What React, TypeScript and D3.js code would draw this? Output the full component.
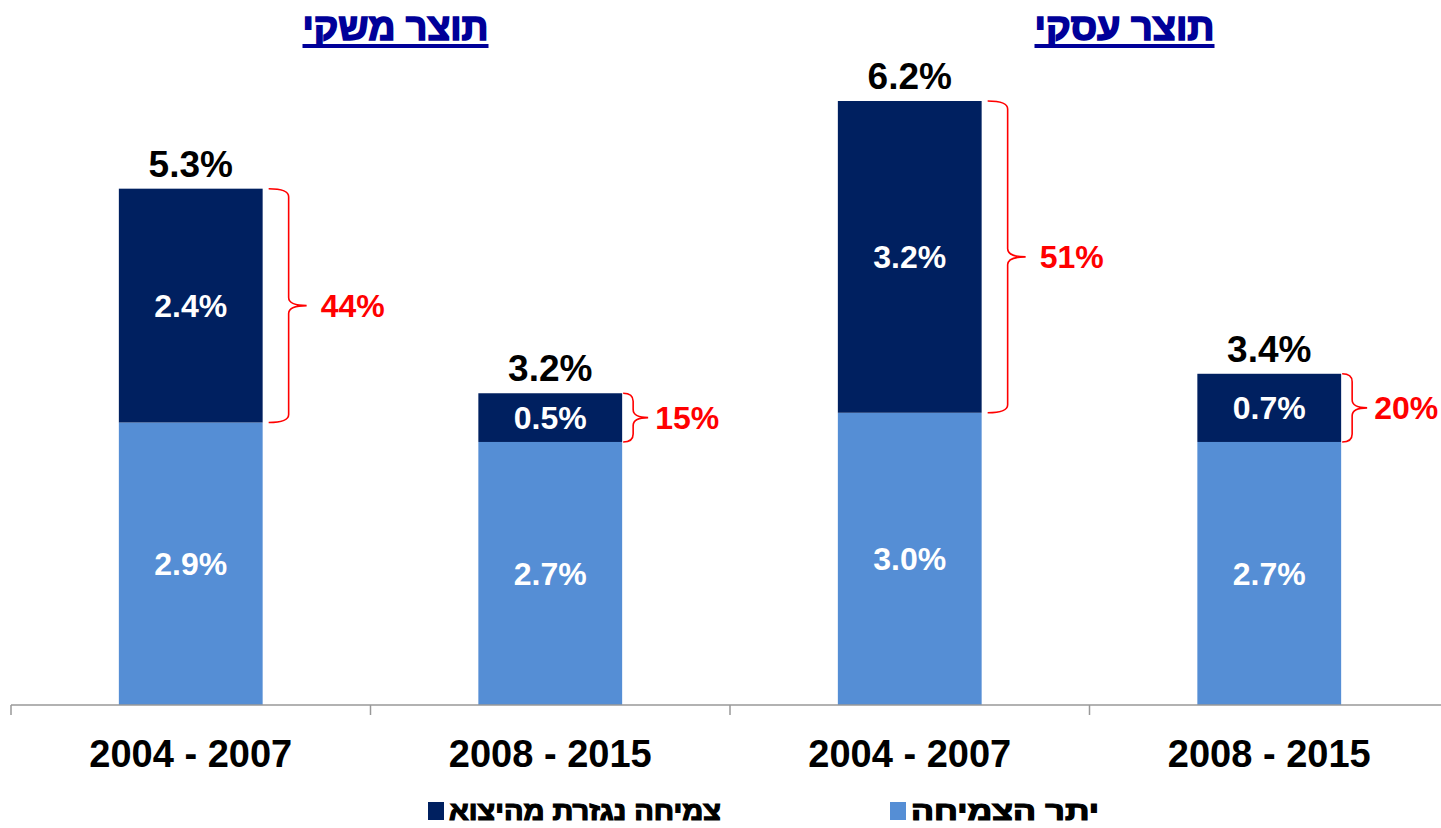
import React, { useEffect, useRef } from 'react';
import * as d3 from 'd3';

// categories along the x axis (two groups of two periods)
const periods = ['2004 - 2007', '2008 - 2015', '2004 - 2007', '2008 - 2015'];
const groupTitles = ['תוצר משקי', 'תוצר עסקי'];

// stacked series (percent growth)
const restGrowth = [2.9, 2.7, 3.0, 2.7];
const exportGrowth = [2.4, 0.5, 3.2, 0.7];
const totals = [5.3, 3.2, 6.2, 3.4];
const exportShare = ['44%', '15%', '51%', '20%'];

const legendLabels = ['צמיחה נגזרת מהיצוא', 'יתר הצמיחה'];

const DARK = '#002060';
const LIGHT = '#558ED5';
const FONT = '"Liberation Sans", Arial, sans-serif';
const FONT_HE = '"Liberation Sans", "DejaVu Sans", sans-serif';

export default function App() {
  const ref = useRef<SVGSVGElement>(null);

  useEffect(() => {
    const svg = d3.select(ref.current);
    svg.selectAll('*').remove();

    const width = 1441;
    const height = 828;
    const axisY = 705;

    const x = d3
      .scaleBand<number>()
      .domain(d3.range(periods.length))
      .range([11, 1449])
      .paddingInner(0.6)
      .paddingOuter(0.3);

    const y = d3.scaleLinear().domain([0, 6.2]).range([axisY, 101]);

    const stack = periods.map((_, i) => ({
      i,
      rest: restGrowth[i],
      exp: exportGrowth[i],
    }));

    // light part (rest of growth)
    svg
      .append('g')
      .selectAll('rect')
      .data(stack)
      .join('rect')
      .attr('x', (d) => x(d.i)!)
      .attr('width', x.bandwidth())
      .attr('y', (d) => y(d.rest))
      .attr('height', (d) => y(0) - y(d.rest))
      .attr('fill', LIGHT);

    // dark part (export-derived growth)
    svg
      .append('g')
      .selectAll('rect')
      .data(stack)
      .join('rect')
      .attr('x', (d) => x(d.i)!)
      .attr('width', x.bandwidth())
      .attr('y', (d) => y(d.rest + d.exp))
      .attr('height', (d) => y(d.rest) - y(d.rest + d.exp))
      .attr('fill', DARK);

    // inner labels
    const inner = svg
      .append('g')
      .attr('font-family', FONT)
      .attr('font-weight', 'bold')
      .attr('font-size', 32)
      .attr('fill', '#fff')
      .attr('text-anchor', 'middle');
    inner
      .selectAll('text.rest')
      .data(stack)
      .join('text')
      .attr('class', 'rest')
      .attr('x', (d) => x(d.i)! + x.bandwidth() / 2)
      .attr('y', (d) => (y(0) + y(d.rest)) / 2)
      .attr('dy', '0.35em')
      .text((d) => d.rest.toFixed(1) + '%');
    inner
      .selectAll('text.exp')
      .data(stack)
      .join('text')
      .attr('class', 'exp')
      .attr('x', (d) => x(d.i)! + x.bandwidth() / 2)
      .attr('y', (d) => (y(d.rest) + y(d.rest + d.exp)) / 2)
      .attr('dy', '0.35em')
      .text((d) => d.exp.toFixed(1) + '%');

    // totals above the bars
    svg
      .append('g')
      .selectAll('text')
      .data(stack)
      .join('text')
      .attr('x', (d) => x(d.i)! + x.bandwidth() / 2)
      .attr('y', (d) => y(d.rest + d.exp) - 12)
      .attr('text-anchor', 'middle')
      .attr('font-family', FONT)
      .attr('font-weight', 'bold')
      .attr('font-size', 37)
      .attr('fill', '#000')
      .text((d) => totals[d.i].toFixed(1) + '%');

    // red braces with export share
    const braces = svg.append('g');
    stack.forEach((d) => {
      const top = y(d.rest + d.exp);
      const bottom = y(d.rest);
      const h = bottom - top;
      const big = h > 100;
      const right = x(d.i)! + x.bandwidth();
      const x0 = right + (big ? 6 : 1);
      const xv = right + (big ? 26 : 11);
      const nub = xv + (big ? 18 : 15);
      const mid = (top + bottom) / 2;
      const r = 8;
      const p = d3.path();
      p.moveTo(x0, top);
      p.quadraticCurveTo(xv, top, xv, top + r);
      p.lineTo(xv, mid - r);
      p.quadraticCurveTo(xv, mid, nub, mid);
      p.quadraticCurveTo(xv, mid, xv, mid + r);
      p.lineTo(xv, bottom - r);
      p.quadraticCurveTo(xv, bottom, x0, bottom);
      braces
        .append('path')
        .attr('d', p.toString())
        .attr('fill', 'none')
        .attr('stroke', '#FF0000')
        .attr('stroke-width', 1.6);
      braces
        .append('text')
        .attr('x', nub + (big ? 14 : 7))
        .attr('y', mid)
        .attr('dy', '0.35em')
        .attr('font-family', FONT)
        .attr('font-weight', 'bold')
        .attr('font-size', 32)
        .attr('fill', '#FF0000')
        .text(exportShare[d.i]);
    });

    // x axis
    const axis = svg.append('g');
    axis
      .append('line')
      .attr('x1', 11)
      .attr('x2', width + 10)
      .attr('y1', axisY)
      .attr('y2', axisY)
      .attr('stroke', '#999')
      .attr('stroke-width', 1.5);
    const step = x.step();
    axis
      .selectAll('line.tick')
      .data(d3.range(periods.length))
      .join('line')
      .attr('class', 'tick')
      .attr('x1', (i) => x(i)! - (step - x.bandwidth()) / 2)
      .attr('x2', (i) => x(i)! - (step - x.bandwidth()) / 2)
      .attr('y1', axisY)
      .attr('y2', axisY + 10)
      .attr('stroke', '#999')
      .attr('stroke-width', 1.5);
    axis
      .selectAll('text')
      .data(periods)
      .join('text')
      .attr('x', (_, i) => x(i)! + x.bandwidth() / 2)
      .attr('y', 767)
      .attr('text-anchor', 'middle')
      .attr('font-family', FONT)
      .attr('font-weight', 'bold')
      .attr('font-size', 38)
      .attr('fill', '#000')
      .text((d) => d);

    // group titles, underlined (stroke thickens the hebrew glyphs)
    const titleWidths = [186, 180];
    groupTitles.forEach((t, g) => {
      const cx = (x(g * 2)! + x(g * 2 + 1)! + x.bandwidth()) / 2 + 25 + g * 10;
      svg
        .append('text')
        .attr('x', cx)
        .attr('y', 40)
        .attr('text-anchor', 'middle')
        .attr('font-family', FONT_HE)
        .attr('font-weight', 'bold')
        .attr('font-size', 38)
        .attr('fill', '#000099')
        .attr('stroke', '#000099')
        .attr('stroke-width', 1.6)
        .attr('textLength', titleWidths[g])
        .attr('lengthAdjust', 'spacingAndGlyphs')
        .text(t);
      svg
        .append('rect')
        .attr('x', cx - titleWidths[g] / 2)
        .attr('width', titleWidths[g])
        .attr('y', 44)
        .attr('height', 4)
        .attr('fill', '#000099');
    });

    // legend
    const legend = svg.append('g');
    const legendItems = [
      { label: legendLabels[0], color: DARK, x: 428, w: 272 },
      { label: legendLabels[1], color: LIGHT, x: 890, w: 188 },
    ];
    legendItems.forEach((it) => {
      legend
        .append('rect')
        .attr('x', it.x)
        .attr('y', 802)
        .attr('width', 16)
        .attr('height', 18)
        .attr('fill', it.color);
      legend
        .append('text')
        .attr('x', it.x + 21 + it.w)
        .attr('y', 820)
        .attr('text-anchor', 'end')
        .attr('font-family', FONT_HE)
        .attr('font-weight', 'bold')
        .attr('font-size', 26)
        .attr('fill', '#000')
        .attr('stroke', '#000')
        .attr('stroke-width', 1.2)
        .attr('textLength', it.w)
        .attr('lengthAdjust', 'spacingAndGlyphs')
        .text(it.label);
    });

    svg.attr('width', width).attr('height', height);
  }, []);

  return (
    <svg
      ref={ref}
      width={1441}
      height={828}
      style={{ position: 'absolute', left: 0, top: 0, display: 'block', background: '#fff' }}
    />
  );
}
